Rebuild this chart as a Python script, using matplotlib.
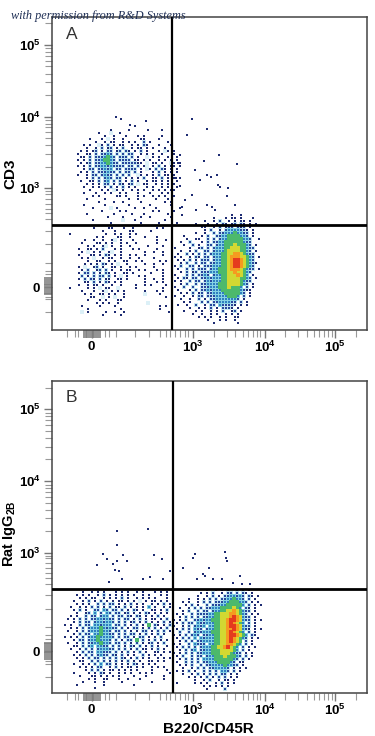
import matplotlib
matplotlib.use("Agg")
import matplotlib.pyplot as plt

W, H = 375, 736
plt.rcParams['font.family'] = ['Liberation Sans', 'DejaVu Sans']
plt.rcParams['mathtext.fontset'] = 'custom'
plt.rcParams['mathtext.rm'] = 'Liberation Sans:bold'
plt.rcParams['mathtext.bf'] = 'Liberation Sans:bold'

# axis channels, in decades on the display scale
major_x = [1.582, 3, 4.015, 5]
major_y = [1.628, 3, 4, 5]
labels = ['$\\mathbf{0}$', '$\\mathbf{10^3}$', '$\\mathbf{10^4}$', '$\\mathbf{10^5}$']
minor_x = [1.23, 1.35, 1.39, 1.77, 1.82, 1.93, 2.19, 2.38, 2.54, 2.62, 2.68, 2.75, 2.82, 2.89, 2.94,
           3.30, 3.48, 3.60, 3.70, 3.78, 3.85, 3.90, 3.95,
           4.30, 4.48, 4.60, 4.70, 4.78, 4.85, 4.90, 4.95, 5.30]
minor_y = [1.27, 1.45, 1.49, 1.80, 1.85, 1.96, 2.22, 2.41, 2.57, 2.65, 2.71, 2.78, 2.85, 2.92, 2.96,
           3.30, 3.48, 3.60, 3.70, 3.78, 3.85, 3.90, 3.95,
           4.30, 4.48, 4.60, 4.70, 4.78, 4.85, 4.90, 4.95, 5.30]
block_x = [1.47 + 0.025 * i for i in range(10)]
block_y = [1.52 + 0.025 * i for i in range(10)]

dot_colors = {'2': '#1d2b72', '3': '#27479c', '4': '#2f7fc0'}
fill_colors = {'1': '#dcf0f7', '3': '#c4e6f1', '4': '#86d3e4',
               '5': '#4cb96c', '6': '#d2d832', '7': '#f59a20', '8': '#e53a1e'}
CELL = 0.042

# density cells: '.' empty, 1 pale ... 8 red
a_upper = [
    "...........2.....2..........2......",
    ".......2...1..2....................",
    ".........2..2...2...2.2.....2......",
    "....2...2.1.2..2.....22....2.......",
    "......2..2.22..2.2.2..3.2.....2....",
    "..2.2..12.3.2.22..2.2.32...2...2...",
    "...2..2.3.23.2.3..2.22.2.2...2.....",
    ".2.2.23.2.33.23.32.2.3.2...2.12.2..",
    "2..22.3.3343.3.3.33..2.2.2..2...2..",
    ".22.3.3334543.333.3.2..1.2.2..2..2.",
    "2.2.3.3345543.3333.22.2.2..2.2.2.2.",
    ".2.23.33445433.3333322.1.22.2..12.2",
    "2.2.3.3344343333.33.3.21.2.3.2.22.2",
    "..2.33.33434.33.3333.2.12.3.32.2.2.",
    ".2.2.3.333433.3.33.3.2...2.3.2.2.2.",
    "2..2.33.3433.3.3.3..12.2.2.3.22.2..",
    "...2.3.3.343.33.2.2.2.3..22.3.2.2.2",
    ".2..22.3.34.3.3.2.3.2..2.22.2.2..2.",
    "...2.2.2.33.2.32.23.1.22..2.2.2.2..",
    "..2..2.2.2.3.2.3.2.2...2.2..2.2..2.",
    "....2...2.2.12.2..2.2.2..2.2.2.22..",
    "..2...2..2.2..2.2...2...2...2.2....",
    ".....2.2.....22.2...2.2..2.2.2..2..",
    "...2.....2.......2..2.....2...2....",
    ".......2....2..2.....2.......2.2...",
    "..2......2.......2......2......2...",
    ".....2.....1.2.....2..2...2.......2",
    "........2.....2.2........2.2....2..",
    "...2........2.....2...2.......2....",
    "..........2....2.....2..2......2...",
    ".....2.........1...2.........2.....",
    "...........2.........2.....2.....2.",
]
a_lower = [
    "........2....22...2..2.......2.2..",
    "...........2...2....22.....2......",
    "2...........2..2.2..2.2...........",
    ".........2.2....22..2....2...2....",
    ".....2..2..2..21.2...2.......2..2.",
    "....2....22.2.2..2.2..2......2....",
    "......2.2..21.2..2..2.....2....2..",
    "...2..22.2.3...2.2...2.2.....2....",
    "....2.1.2.2..21..2.......2..2..2..",
    "...2...22.2.32.2.2..2.2..2.....2..",
    "....2.2.1..2.22..2..2..2....2.....",
    "......2..22..2.2..22..2.2.....2.2.",
    ".....2.2.2.32.2.1..2.....2..2..2..",
    "...2.1..23.2..22.2..2.2.....2.....",
    "....2.3..23.3.2..2.22..2.2...2.2..",
    "...2.33.3.2.32.2..22.2.....2...2..",
    "....3.2.3.33.3.2.1.2...2.2.....2..",
    "...2.3.32.3.22..22.2.....2..2..2..",
    ".....22.3.2.32.2.2.......2...2.2..",
    "...2..2.22.2..2..2....2..2.2....2.",
    "2.....2.2.1.22..1.....2........2..",
    "....2...2..21.2.2.2......2...2.2..",
    ".....2.2..22.2.2..2......1....2...",
    ".......22..1.2.1..2.............2.",
    "......2...2.2...22................",
    ".........2.2.2..2.........1.......",
    "....2.....2....2..............2.2.",
    "......2..........2............2...",
    "....1.2.....2..2..2..............2",
    "...........2.....2................",
]
a_right = [
    "....................2..2......",
    "..............2...2.22.2...2..",
    "...........2..2.3..2.2.22.2...",
    "........2...2..2.32.23.32.2.2.",
    "..........22..2.3.233.323.2...",
    "...........2.3..2.34444332.2..",
    "........2..2..3.3344454433.2..",
    "....2.....2.3..33445555443.2..",
    ".....2..22..3.3.34455555443..2",
    "...2..3...2.3.3344555555433...",
    "....2..3.2..33.344555655543.2.",
    ".2....2..23.3.34445566655433..",
    "...2..2.3..33.3444566665543.2.",
    "..2..3.2.3.3.344455667765433..",
    ".2.2..2.32.33.34455677766543.2",
    "..2.2.3.2.333.34455678876543..",
    "2..2.3..3.33.3344556788765432.",
    ".2.3..33.2.33344455678876543..",
    "..2..3.3.333.344555677765433.2",
    "2..2.3.23.33344455566766543...",
    ".2...3.3.3343.344556667654.2..",
    "..2.32.33.33434445566665543.2.",
    ".2.2..3.33.3434445566665433...",
    "2..2.3..3.3344445556666543.2..",
    ".2..3..3..33344455565554.3.2..",
    "..2...2.3.33434445555554322...",
    "...2.2.3.23.3344445555543.2...",
    ".2..2..2.33.33344445554.3.2...",
    "...2..2..3.2.3344444443.2.....",
    "....2.2...3.3.33444433.3.2....",
    "..2..2..3..2.33.433332.2.2....",
    "......2..2.2.3.2.3332.2.......",
    "....2...2.2..2.2.3..23.2......",
    ".......2..2..2.2..2.2.2.......",
    ".........2.2.2..2.2..22.......",
    "............2...2.2..2........",
    "..............2.......2.......",
]
b_left = [
    "......2..2.2.2...2.2.2..2.2...2.2.2.",
    "....2.2.2..2.3.2.2.2.2.2..2.2...2.2.",
    ".....2.2.22..2.2.2.3.2..2.2.2.2...2.",
    "...2..2.3.2.3.2.2.22.2.2.1.2.22.2.2.",
    "....2.2.2..3.3.33.2.2.3.2.2..2.2.3.2",
    "..2..2.2.3.3.2.3.22.3.2.2.2.4.2..2.2",
    "...2.3.2..33.43.33.3.2.32.2..22.2.3.",
    "....2..23.4.3.43.33.23.2.2.32.2.2.2.",
    "..2.2..3.33.344.3.33.32.32.2.2.3.2..",
    ".2.2.3.3.33443433.3.33.2.3.2.22.2.3.",
    "...2.3.33.3443443.3.3.23.2.3.2.2.3.2",
    "2.2..3.33.443444.33.3.2.3.2.5.32.2.3",
    "..2.2.3.3444543433.3.2.33.2.3.3.2.3.",
    ".2..2.3.34445443.33.3.2.2.33.2.3.3.2",
    "...2.3.33.4454433.3.3.33.2.3.2.3.2..",
    "2.2.2.3.344544443.3.33.2.33.2.2.3...",
    "...2.33.34454443.3.2.33.5.3.2.3.2.2.",
    ".2..2.3.33445443.33.3.2.3.2.23.2.3..",
    "...22.3.34.4433.3.3.2.32.3.2.3.2..2.",
    "..2..2.3.3.344433.3.3.2.3.22.2.3.2..",
    "....2.3.33.44333.3.2.3.2.3.2..22.2.2",
    "...2.2.3.3.3433.32.3.2.2..3.2.2.2...",
    "....2.2.3.33.3.3.3.32.2.3.2.2..2.2.2",
    ".....22..3.3.3.2.3.2.3.2.2..22.2.2..",
    "...2..2.2.3.4.33.2.2.2.32.2.2.2.....",
    ".....2.2.2.33..2.3.2.22.2.2..2.2.2..",
    ".......2.3.3.2.22.2.2.2.2....2....2.",
    "...2....2.2.32.2..2.2.2..2.2.2.....2",
    ".....2...22.2.2.2.2....2...2.....2..",
    "........2.2..22...2..2...2.......2..",
    "......2...2..2.....2.........2......",
    "....2........2.........2............",
    "..........2.........................",
]
b_right = [
    "...........2..2.2.2..2.2.2....",
    ".........2.2.3..2.33.3.32.2...",
    "........2..2.3.2.3344343.32.2.",
    ".....2..2.2.3.3.33445443.3.2..",
    "...2.2..2.3.3.33344555443.2.2.",
    "....2.3.2..3.33344555554.3.2.2",
    "..2..2.3.3.334445555654.32.2..",
    "...2.3..3.33.3445566765433.2..",
    ".2.2..3.33334455666776543.2.2.",
    "..2.3.3.3.3344556667876433.2..",
    "2.2.3..3343445556678876433.2.2",
    ".2.3.33.4334445566787654.3.2..",
    "2..2.3.3434.44556678876433.2..",
    ".2.3.3.433.344556677876432.2.2",
    "..3..3.34344455566787654.3.2..",
    "2.2.3.343.334455667887654.32..",
    ".2.3.3.4.4344455667876543.2.2.",
    "..2.3.3.334444556678765.3.2...",
    "2.2..3.4333.44556677654.3.2...",
    ".2.3.3.3.3444556678654.3.2.2..",
    "..2.3.34.3344555666654.3.2....",
    "2.2.3.3.334445556665433.2.2...",
    ".2.3..3.33.344555655543.3.2...",
    "..2.3.3.3.444455555543.3.2....",
    ".2..3.3.3.33444555543.22......",
    "..2.2.3..3.33444454433.2......",
    "...2..2.3.3.3344443.2.2.2.....",
    ".2.2.3.2..3.3.3.443.3.2.......",
    "...2..2.3.2.3.3.33.2.2........",
    ".....2.2.2.3.2.3.3.2.2........",
    ".......2..2.3..2.22.2.........",
    ".2.....2.2.2..2.3.2.2.........",
    "..........2.2.2.2.2...........",
    "...........2.....3............",
]

# (grid, first column channel, top row channel)
panel_a_grids = [(a_upper, 1.389, 3.813), (a_lower, 1.277, 2.446), (a_right, 2.709, 2.628)]
panel_b_grids = [(b_left, 1.206, 2.452), (b_right, 2.737, 2.480)]

# stray events outside the populations
a_stray_x = [1.92, 1.99, 2.12, 2.19, 2.34, 2.37, 2.99, 3.20, 2.92, 3.37, 3.62, 3.16, 3.20, 3.26, 3.34, 3.36, 3.50, 3.38,
             3.48, 3.20, 3.31, 3.27, 3.59, 2.82, 2.79, 3.03, 3.10, 2.77, 2.82, 2.89, 2.85, 2.99, 3.05, 2.85]
a_stray_y = [3.99, 3.97, 3.88, 3.87, 3.94, 3.81, 3.97, 3.83, 3.74, 3.46, 3.34, 3.38, 3.19, 3.16, 3.19, 3.05, 3.00, 3.02,
             2.89, 2.77, 2.70, 2.74, 2.77, 3.46, 3.35, 3.26, 3.12, 3.14, 3.03, 2.84, 2.63, 2.91, 2.70, 2.74]
b_stray_x = [1.94, 2.37, 1.94, 1.74, 1.80, 2.02, 1.66, 1.88, 1.94, 2.08, 1.91, 1.96, 2.45, 2.57, 2.68, 2.58, 2.40, 2.30, 1.82,
             2.01, 3.00, 3.03, 2.86, 3.23, 3.15, 3.45, 3.47, 3.48, 3.41, 3.66, 3.57, 3.69, 3.80, 3.06, 3.17, 3.29, 2.72]
b_stray_y = [3.30, 3.33, 3.11, 2.98, 2.91, 2.97, 2.83, 2.84, 2.88, 2.88, 2.76, 2.74, 2.97, 2.91, 2.74, 2.63, 2.66, 2.63, 2.59,
             2.63, 2.93, 2.98, 2.79, 2.79, 2.70, 3.01, 2.93, 2.88, 2.63, 2.68, 2.58, 2.56, 2.56, 2.63, 2.68, 2.63, 2.54]


def cells_of(grids, lev):
    xs, ys = [], []
    for grid, x0, y0 in grids:
        for r, row in enumerate(grid):
            for c, ch in enumerate(row):
                if ch == lev:
                    xs.append(x0 + c * CELL)
                    ys.append(y0 - r * CELL)
    return xs, ys


def draw_panel(box, ylim, gate_x, gate_y, grids, sx, sy, letter):
    left, top, right, bottom = box
    ax = fig.add_axes([left / W, 1 - bottom / H, (right - left) / W, (bottom - top) / H])
    ax.set_xlim(1.02, 5.444)
    ax.set_ylim(*ylim)

    # pale haze and filled core first, then the small dark events on top
    for lev, col in fill_colors.items():
        xs, ys = cells_of(grids, lev)
        ax.scatter(xs, ys, s=4.9, marker='s', color=col, linewidths=0, zorder=2)
    for lev, col in dot_colors.items():
        xs, ys = cells_of(grids, lev)
        ax.scatter(xs, ys, s=1.6, marker='s', color=col, linewidths=0, zorder=2.5)
    ax.scatter(sx, sy, s=1.6, marker='s', color='#1d2b72', linewidths=0, zorder=2.5)

    ax.axvline(gate_x, color='black', lw=1.6, zorder=3)
    ax.axhline(gate_y, color='black', lw=2.0, zorder=3)

    ax.set_xticks(major_x, labels, fontsize=9.5)
    ax.set_yticks(major_y, labels, fontsize=9.5)
    ax.set_xticks(minor_x, minor=True)
    ax.set_yticks(minor_y, minor=True)
    ax.tick_params(which='major', length=6, width=1, color='#777777')
    ax.tick_params(which='minor', length=5, width=0.8, color='#999999')
    ax.tick_params(axis='x', which='major', pad=1)
    ax.tick_params(axis='y', which='major', pad=2)
    ax.vlines(block_x, -0.024, 0, transform=ax.get_xaxis_transform(), color='#808080', lw=1.2, clip_on=False)
    ax.hlines(block_y, -0.024, 0, transform=ax.get_yaxis_transform(), color='#808080', lw=1.2, clip_on=False)
    for s in ax.spines.values():
        s.set_color('#444444')
        s.set_linewidth(1.1)
    ax.text(0.044, 0.945, letter, transform=ax.transAxes, fontsize=12.5, color='#333333', ha='left', va='center')
    return ax


fig = plt.figure(figsize=(W / 100, H / 100), dpi=100)
draw_panel((51.7, 17.3, 366.7, 330), (1.024, 5.385), 2.705, 2.484, panel_a_grids, a_stray_x, a_stray_y, 'A')
draw_panel((51.7, 380.7, 366.7, 693.3), (1.039, 5.399), 2.723, 2.494, panel_b_grids, b_stray_x, b_stray_y, 'B')

fig.text(10 / W, 1 - 174 / H, 'CD3', rotation=90, fontsize=11, fontweight='bold', ha='center', va='center')
fig.text(10 / W, 1 - 534 / H, 'Rat IgG$_{\\mathbf{2B}}$', rotation=90, fontsize=10.5, fontweight='bold',
         ha='center', va='center')
fig.text(208 / W, 1 - 729 / H, 'B220/CD45R', fontsize=11, fontweight='bold', ha='center', va='center')
fig.text(11 / W, 1 - 16 / H, 'with permission from R&D Systems', fontsize=8.8, style='italic', color='#1f2f55',
         family='Liberation Serif', ha='left', va='center')

fig.savefig('out.png', dpi=100)
